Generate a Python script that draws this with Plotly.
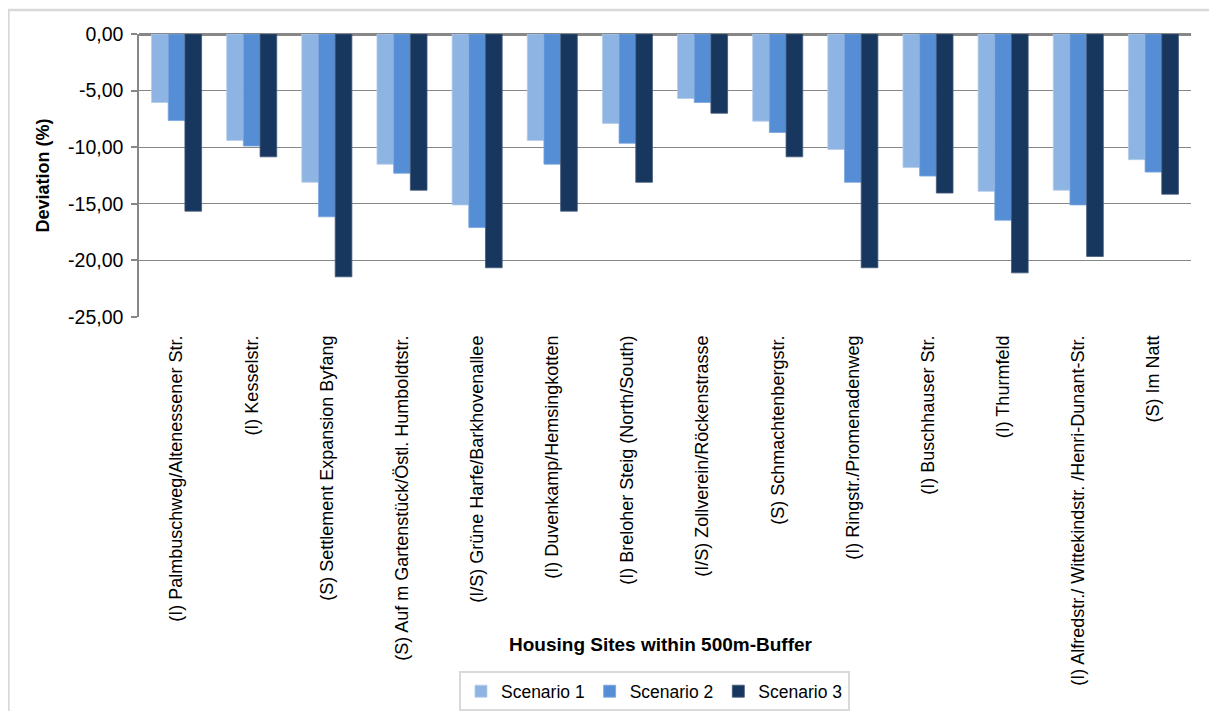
import plotly.graph_objects as go

categories = [
    "(I) Palmbuschweg/Altenessener Str.",
    "(I) Kesselstr.",
    "(S) Settlement Expansion Byfang",
    "(S) Auf m Gartenstück/Östl. Humboldtstr.",
    "(I/S) Grüne Harfe/Barkhovenallee",
    "(I) Duvenkamp/Hemsingkotten",
    "(I) Breloher Steig (North/South)",
    "(I/S) Zollverein/Röckenstrasse",
    "(S) Schmachtenbergstr.",
    "(I) Ringstr./Promenadenweg",
    "(I) Buschhauser Str.",
    "(I) Thurmfeld",
    "(I) Alfredstr./ Wittekindstr. /Henri-Dunant-Str.",
    "(S) Im Natt",
]

scenario1 = [-6.05, -9.4, -13.1, -11.5, -15.1, -9.4, -7.9, -5.7, -7.7, -10.2, -11.8, -13.9, -13.8, -11.1]
scenario2 = [-7.65, -9.9, -16.15, -12.3, -17.1, -11.5, -9.65, -6.05, -8.7, -13.1, -12.55, -16.45, -15.1, -12.2]
scenario3 = [-15.65, -10.85, -21.45, -13.8, -20.65, -15.65, -13.1, -7.0, -10.85, -20.65, -14.05, -21.1, -19.65, -14.15]

series_names = ["Scenario 1", "Scenario 2", "Scenario 3"]
y_tickvals = [0, -5, -10, -15, -20, -25]
y_ticktext = ["0,00", "-5,00", "-10,00", "-15,00", "-20,00", "-25,00"]

colors = ["#8EB4E3", "#558ED5", "#17375E"]
edge_colors = ["#b4cbea", "#7aa5dc", "#44597a"]

FONT = "Liberation Sans, Arial, sans-serif"
GRID = "#878787"

fig = go.Figure()
for name, vals, c, ec in zip(series_names, [scenario1, scenario2, scenario3], colors, edge_colors):
    fig.add_trace(go.Bar(
        x=categories, y=vals, name=name,
        marker=dict(color=c, line=dict(color=ec, width=0.8)),
    ))

fig.update_layout(
    width=1209, height=703,
    paper_bgcolor="white", plot_bgcolor="white",
    margin=dict(l=131, r=26, t=26, b=394, autoexpand=False),
    barmode="group", bargap=0.334, bargroupgap=0,
    font=dict(family=FONT, size=18, color="#000000"),
    showlegend=True,
    legend=dict(
        orientation="h", x=0.49, xanchor="center", y=-1.252, yanchor="top",
        bordercolor="#d9d9d9", borderwidth=2, font=dict(size=17.5, family=FONT),
        bgcolor="white", itemwidth=30,
    ),
    xaxis=dict(
        type="category", range=[-0.5, 13.5], tickangle=-90, automargin=False,
        showline=False, showgrid=False, zeroline=False, ticks="",
        tickfont=dict(size=18, family=FONT), ticklabelstandoff=14,
    ),
    xaxis2=dict(
        overlaying="x", side="top", anchor="y", type="linear", automargin=False,
        range=[-0.5, 13.5], tickvals=[i - 0.5 for i in range(15)],
        showticklabels=False, ticks="inside", ticklen=6, tickwidth=1.5,
        tickcolor=GRID, showline=False, showgrid=False, zeroline=False,
    ),
    yaxis=dict(
        range=[-25, 0], tickvals=y_tickvals, ticktext=y_ticktext, automargin=False,
        showgrid=True, gridcolor=GRID, gridwidth=1,
        zeroline=True, zerolinecolor=GRID, zerolinewidth=2.5,
        showline=True, linecolor=GRID, linewidth=1.5,
        ticks="outside", ticklen=6, tickcolor=GRID, tickwidth=1.5,
        tickfont=dict(size=19.5, family=FONT), ticklabelstandoff=4,
    ),
    shapes=[dict(
        type="rect", xref="paper", yref="paper",
        x0=-0.1241, x1=1.2, y0=-2.0, y1=1.085,
        line=dict(color="#d9d9d9", width=2.5), fillcolor="rgba(0,0,0,0)",
        layer="below",
    )],
    annotations=[
        dict(text="<b>Deviation (%)</b>", xref="paper", yref="paper",
             x=-0.0913, y=0.5, xanchor="center", yanchor="middle",
             textangle=-90, showarrow=False, font=dict(size=18, family=FONT)),
        dict(text="<b>Housing Sites within 500m-Buffer</b>", xref="paper", yref="paper",
             x=0.496, y=-1.159, xanchor="center", yanchor="middle",
             showarrow=False, font=dict(size=19, family=FONT)),
    ],
)

fig.write_html("out.html")
